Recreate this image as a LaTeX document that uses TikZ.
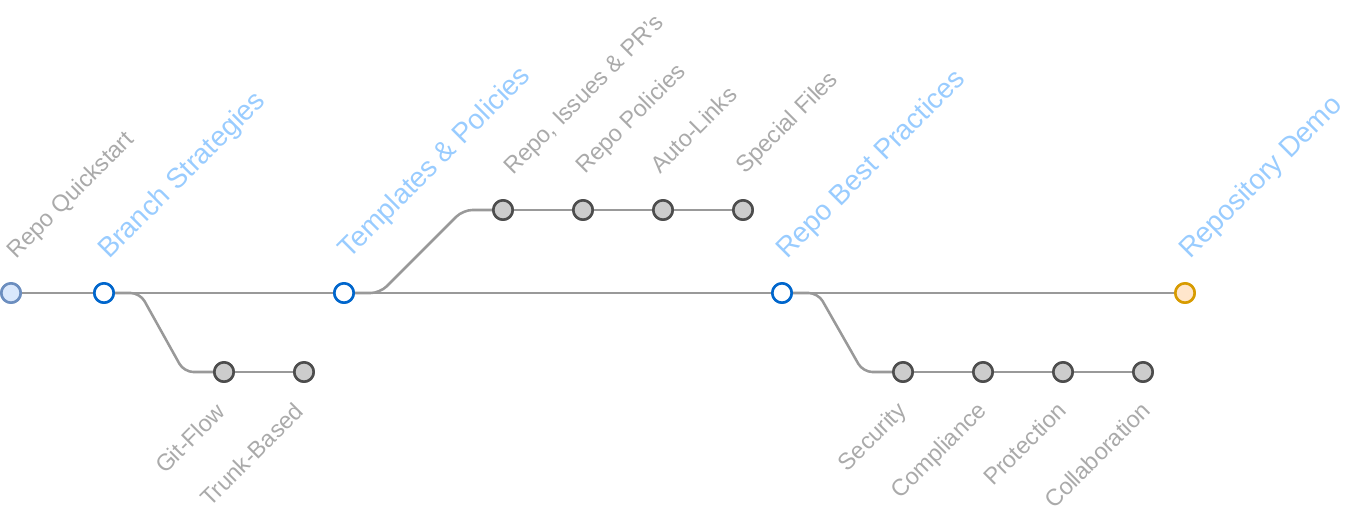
\documentclass[tikz,border=0pt]{standalone}
\usepackage{fontspec}
\setmainfont{Liberation Sans}
\usetikzlibrary{calc}
\definecolor{LineGray}{HTML}{999999}
\definecolor{TextGray}{HTML}{AAAAAA}
\definecolor{TextBlue}{HTML}{99CCFF}
\definecolor{CommitBlue}{HTML}{0066CC}
\definecolor{BranchFill}{HTML}{CCCCCC}
\definecolor{BranchDraw}{HTML}{4D4D4D}
\definecolor{StartFill}{HTML}{DAE8FC}
\definecolor{StartDraw}{HTML}{6C8EBF}
\definecolor{EndFill}{HTML}{FFE6CC}
\definecolor{EndDraw}{HTML}{D79B00}

\begin{document}
\begin{tikzpicture}[
    x=0.75pt, y=-0.75pt,
    commit/.style={circle, inner sep=0pt, minimum size=14.5pt, line width=1.9pt},
    maincommit/.style={commit, draw=CommitBlue, fill=white},
    sidecommit/.style={commit, draw=BranchDraw, fill=BranchFill},
    flow/.style={draw=LineGray, line width=1.9pt, rounded corners=7pt},
    uplabel/.style={rotate=45, anchor=base west, inner sep=0pt},
    downlabel/.style={rotate=45, anchor=base east, inner sep=0pt},
    graytext/.style={text=TextGray, font=\fontsize{17.6}{20}\selectfont},
    bluetext/.style={text=TextBlue, font=\fontsize{21}{24}\selectfont}
  ]
  \useasboundingbox (0,0) rectangle (1350,529);

  % main line commits
  \node[commit, draw=StartDraw, fill=StartFill] (quick) at (11,293) {};
  \node[maincommit] (branch) at (104,293) {};
  \node[maincommit] (templ) at (344,293) {};
  \node[maincommit] (best) at (782,293) {};
  \node[commit, draw=EndDraw, fill=EndFill] (demo) at (1185,293) {};

  % side commits
  \node[sidecommit] (gitflow) at (224,372) {};
  \node[sidecommit] (trunk) at (304,372) {};
  \node[sidecommit] (issues) at (503,210) {};
  \node[sidecommit] (policies) at (583,210) {};
  \node[sidecommit] (autolinks) at (663,210) {};
  \node[sidecommit] (special) at (743,210) {};
  \node[sidecommit] (security) at (903,372) {};
  \node[sidecommit] (compliance) at (983,372) {};
  \node[sidecommit] (protection) at (1063,372) {};
  \node[sidecommit] (collab) at (1143,372) {};

  % lines
  \draw[flow] (quick) -- (branch) -- (templ) -- (best) -- (demo);
  \draw[flow] (branch.east) -- ($(branch)+(36,0)$) -- ($(gitflow)+(-40,0)$) -- (gitflow);
  \draw[flow] (gitflow) -- (trunk);
  \draw[flow] (templ.east) -- ($(templ)+(36,0)$) -- ($(issues)+(-40,0)$) -- (issues);
  \draw[flow] (issues) -- (policies) -- (autolinks) -- (special);
  \draw[flow] (best.east) -- ($(best)+(36,0)$) -- ($(security)+(-40,0)$) -- (security);
  \draw[flow] (security) -- (compliance) -- (protection) -- (collab);

  % redraw commits on top of the lines
  \node[commit, draw=StartDraw, fill=StartFill] at (quick) {};
  \node[maincommit] at (branch) {};
  \node[maincommit] at (templ) {};
  \node[maincommit] at (best) {};
  \node[commit, draw=EndDraw, fill=EndFill] at (demo) {};
  \node[sidecommit] at (gitflow) {};
  \node[sidecommit] at (trunk) {};
  \node[sidecommit] at (issues) {};
  \node[sidecommit] at (policies) {};
  \node[sidecommit] at (autolinks) {};
  \node[sidecommit] at (special) {};
  \node[sidecommit] at (security) {};
  \node[sidecommit] at (compliance) {};
  \node[sidecommit] at (protection) {};
  \node[sidecommit] at (collab) {};

  % labels
  \node[uplabel, graytext] (quicklbl) at ($(quick)+(5,-33)$) {Repo Quickstart};
  \node[uplabel, bluetext] (branchlbl) at ($(branch)+(5,-33)$) {Branch Strategies};
  \node[uplabel, bluetext] (templlbl) at ($(templ)+(5,-33)$) {Templates \& Policies};
  \node[uplabel, bluetext] (bestlbl) at ($(best)+(5,-33)$) {Repo Best Practices};
  \node[uplabel, bluetext] (demolbl) at ($(demo)+(5,-33)$) {Repository Demo};
  \node[uplabel, graytext] (issueslbl) at ($(issues)+(10,-34)$) {Repo, Issues \& PR's};
  \node[uplabel, graytext] (policieslbl) at ($(policies)+(2,-35)$) {Repo Policies};
  \node[uplabel, graytext] (autolinkslbl) at ($(autolinks)+(-3,-35)$) {Auto-Links};
  \node[uplabel, graytext] (speciallbl) at ($(special)+(2,-35)$) {Special Files};
  \node[downlabel, graytext] (gitflowlbl) at ($(gitflow)+(3,41)$) {Git-Flow};
  \node[downlabel, graytext] (trunklbl) at ($(trunk)+(1,41)$) {Trunk-Based};
  \node[downlabel, graytext] (securitylbl) at ($(security)+(5,40)$) {Security};
  \node[downlabel, graytext] (compliancelbl) at ($(compliance)+(5,40)$) {Compliance};
  \node[downlabel, graytext] (protectionlbl) at ($(protection)+(5,40)$) {Protection};
  \node[downlabel, graytext] (collablbl) at ($(collab)+(9,40)$) {Collaboration};
\end{tikzpicture}
\end{document}
